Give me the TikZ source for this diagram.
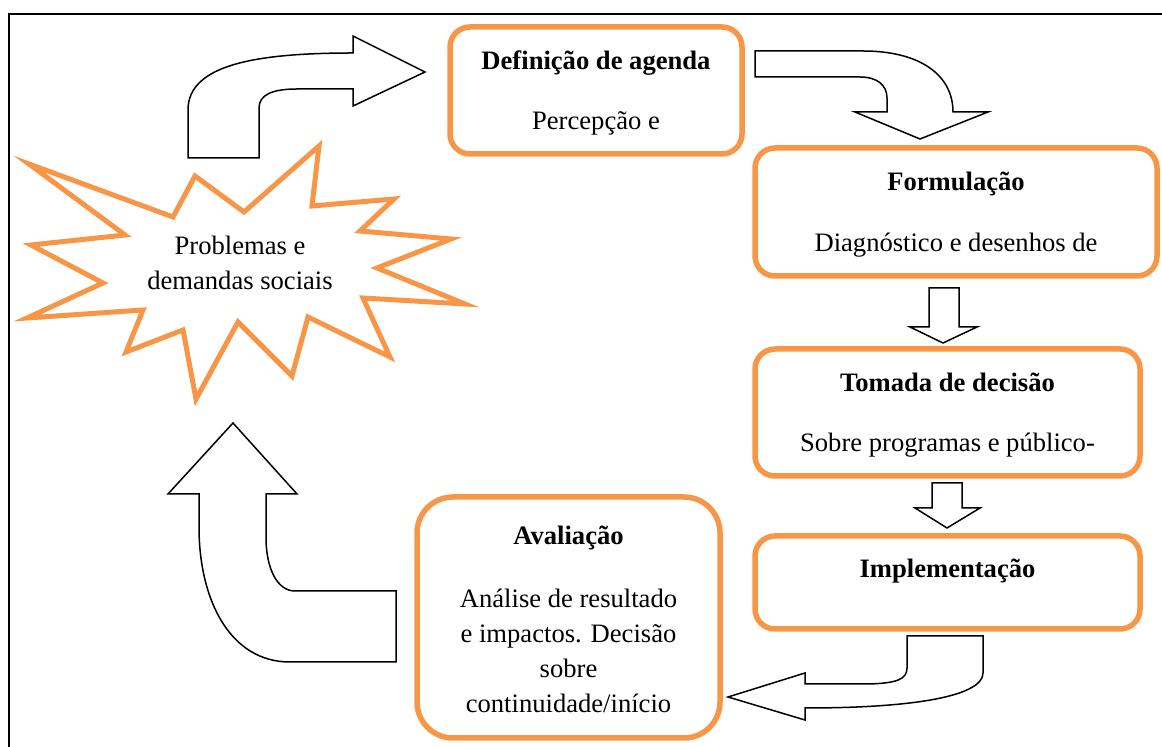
\documentclass[tikz,border=0pt]{standalone}
\usepackage{fontspec}
\setmainfont{Liberation Serif}
\usepackage{xcolor}
\definecolor{stageorange}{RGB}{247,150,70}
\usetikzlibrary{positioning}

\begin{document}
\begin{tikzpicture}[x=0.5pt, y=-0.5pt,
    every node/.style={inner sep=0pt, outer sep=0pt, font=\fontsize{13.3}{17.5}\selectfont},
    stage/.style={draw=stageorange, line width=2.75pt, rounded corners=10pt},
    title/.style={anchor=base, font=\fontsize{13.3}{17.5}\selectfont\bfseries},
    body/.style={anchor=base, align=center},
    blockarrow/.style={draw=black, fill=white, line width=0.75pt, line join=miter}]
\useasboundingbox (0,0) rectangle (1162,747);
\draw[line width=1pt] (9,747) -- (9,14) -- (1162,14);

\draw[stageorange, line width=2.5pt, line join=miter]
  (29,164) -- (173,217) -- (195,176) -- (244,212) -- (319,146) -- (312,206)
  -- (394,199) -- (360,231) -- (451,239) -- (377,268) -- (465,304) -- (363,298)
  -- (390,357) -- (308,317) -- (292,376) -- (238,322) -- (196,399) -- (183,330)
  -- (126,352) -- (143,310) -- (27,318) -- (103,283) -- (31,245) -- (125,235) -- cycle;
\node[body] (problemas) at (240,290) {Problemas e\\demandas sociais};

\node[stage, minimum width=146pt, minimum height=63.5pt] (agenda) at (596,90.5) {};
\node[title] (agendaT) at (596,70) {Definição de agenda};
\node[body] (agendaB) at (596,130) {Percepção e};

\node[stage, minimum width=201pt, minimum height=64pt] (formulacao) at (956,212) {};
\node[title] (formulacaoT) at (956,191) {Formulação};
\node[body] (formulacaoB) at (956,252) {Diagnóstico e desenhos de};

\node[stage, minimum width=192.5pt, minimum height=63.5pt] (decisao) at (947.5,412.5) {};
\node[title] (decisaoT) at (947.5,392) {Tomada de decisão};
\node[body] (decisaoB) at (947.5,452) {Sobre programas e público-};

\node[stage, minimum width=192.5pt, minimum height=46.5pt] (implementacao) at (947.5,582.5) {};
\node[title] (implementacaoT) at (947.5,578) {Implementação};

\node[stage, rounded corners=18pt, minimum width=151.5pt, minimum height=120.5pt] (avaliacao) at (568.5,617.5) {};
\node[title] (avaliacaoT) at (568.5,545) {Avaliação};
\node[body] (avaliacaoB) at (568.5,713) {Análise de resultado\\e impactos. Decisão\\sobre\\continuidade/início};

\draw[blockarrow] (188,158) -- (188,110) .. controls (188,65) and (255,53) .. (353,53)
  -- (353,36) -- (425,72) -- (353,106) -- (353,89) -- (297,89)
  .. controls (272,89) and (259,95) .. (259,108) -- (259,158) -- cycle;
\draw[blockarrow] (755,51) -- (863,51) .. controls (920,51) and (953,75) .. (953,112)
  -- (988,112) -- (920,139) -- (855,112) -- (887,112) -- (887,98)
  .. controls (887,85) and (877,77) .. (860,77) -- (755,77) -- cycle;
\draw[blockarrow] (929,288) -- (959,288) -- (959,327) -- (977,327) -- (943,343) -- (910,327) -- (929,327) -- cycle;
\draw[blockarrow] (932,483) -- (962,483) -- (962,508) -- (980,508) -- (947,528) -- (915,508) -- (932,508) -- cycle;
\draw[blockarrow] (907,636) -- (983,636) -- (983,673) .. controls (983,695) and (920,708) .. (805,708)
  -- (805,720) -- (728,697) -- (805,673) -- (805,684) -- (870,684)
  .. controls (895,683) and (907,680) .. (907,668) -- cycle;
\draw[blockarrow] (396,662) -- (290,662) .. controls (230,662) and (199,600) .. (199,527)
  -- (199,494) -- (168,494) -- (233,423) -- (297,494) -- (266,494) -- (266,537)
  .. controls (266,570) and (278,591) .. (295,591) -- (396,591) -- cycle;
\end{tikzpicture}
\end{document}
